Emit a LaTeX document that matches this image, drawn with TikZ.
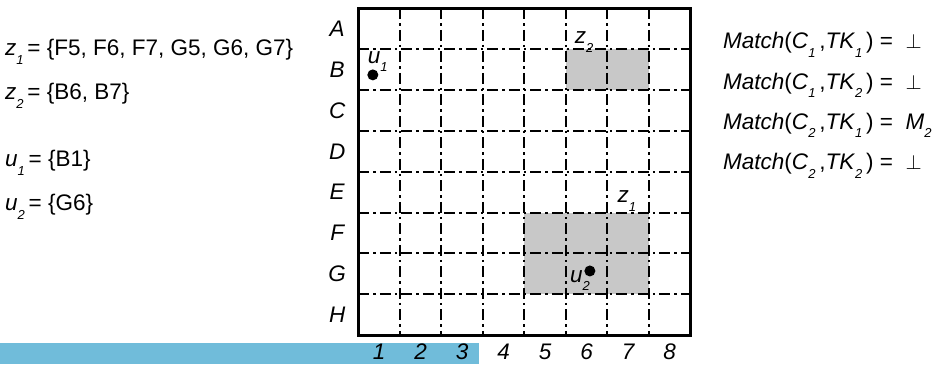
\documentclass[tikz,border=0pt]{standalone}
\usepackage{fontspec}
\setmainfont{Liberation Sans}
\usetikzlibrary{positioning}
\definecolor{bandblue}{RGB}{112,188,218}
\definecolor{zonegray}{RGB}{200,200,200}
\newcommand{\lowidx}[1]{\raisebox{-0.38em}{\fontsize{13}{13}\selectfont\itshape #1}}

\begin{document}
\begin{tikzpicture}[x=1pt,y=-1pt,font=\fontsize{22.5}{26}\selectfont,
  lbl/.style={font=\fontsize{22.5}{26}\selectfont\itshape,inner sep=0pt},
  settext/.style={anchor=west,inner sep=0pt},
  gridline/.style={line width=2pt,dash pattern=on 11pt off 4pt on 2.5pt off 4pt},
  frame/.style={line width=3pt},
  zone/.style={fill=zonegray},
  dot/.style={circle,fill=black,inner sep=0pt,minimum size=11pt}]
\useasboundingbox (0,0) rectangle (936,364);
\fill[bandblue] (0,343) rectangle (479,364);
% sets on the left
\node[settext] (zone1) at (5,52) {\textit{z}\lowidx{1}\,= \{F5, F6, F7, G5, G6, G7\}};
\node[settext] (zone2) at (5,96) {\textit{z}\lowidx{2}\,= \{B6, B7\}};
\node[settext] (user1) at (5,163) {\textit{u}\lowidx{1}\,= \{B1\}};
\node[settext] (user2) at (5,207) {\textit{u}\lowidx{2}\,= \{G6\}};
% grid of cells
\begin{scope}[shift={(358.3,8.3)},x=41.5pt,y=-40.85pt]
\fill[zone] (5,1) rectangle (7,2);
\fill[zone] (4,5) rectangle (7,7);
\foreach \i in {1,...,7} {
  \draw[gridline] (\i,0) -- (\i,8);
  \draw[gridline] (0,\i) -- (8,\i);
}
\draw[frame] (0,0) rectangle (8,8);
\foreach \r [count=\k] in {A,B,C,D,E,F,G,H}
  \node[lbl] (row\r) at (-0.51,\k-0.5) {\r};
\foreach \c in {1,...,8}
  \node[lbl] (col\c) at (\c-0.5,8.41) {\c};
\node[dot] (u1) at (0.35,1.63) {};
\node[dot] (u2) at (5.58,6.43) {};
\node[lbl] (u1lbl) at (0.47,1.3) {u\lowidx{1}};
\node[lbl] (u2lbl) at (5.34,6.66) {u\lowidx{2}};
\node[lbl] (z2lbl) at (5.44,0.82) {z\lowidx{2}};
\node[lbl] (z1lbl) at (6.47,4.72) {z\lowidx{1}};
\end{scope}
% match results on the right
\node[settext] (m11) at (723,45) {\textit{Match}(\textit{C}\lowidx{1}\,,\textit{TK}\lowidx{1}\,) = \ $\perp$};
\node[settext,below=15pt of m11.south west,anchor=north west] (m12) {\textit{Match}(\textit{C}\lowidx{1}\,,\textit{TK}\lowidx{2}\,) = \ $\perp$};
\node[settext,below=15pt of m12.south west,anchor=north west] (m21) {\textit{Match}(\textit{C}\lowidx{2}\,,\textit{TK}\lowidx{1}\,) = \ \textit{M}\lowidx{2}};
\node[settext,below=15pt of m21.south west,anchor=north west] (m22) {\textit{Match}(\textit{C}\lowidx{2}\,,\textit{TK}\lowidx{2}\,) = \ $\perp$};
\end{tikzpicture}
\end{document}
